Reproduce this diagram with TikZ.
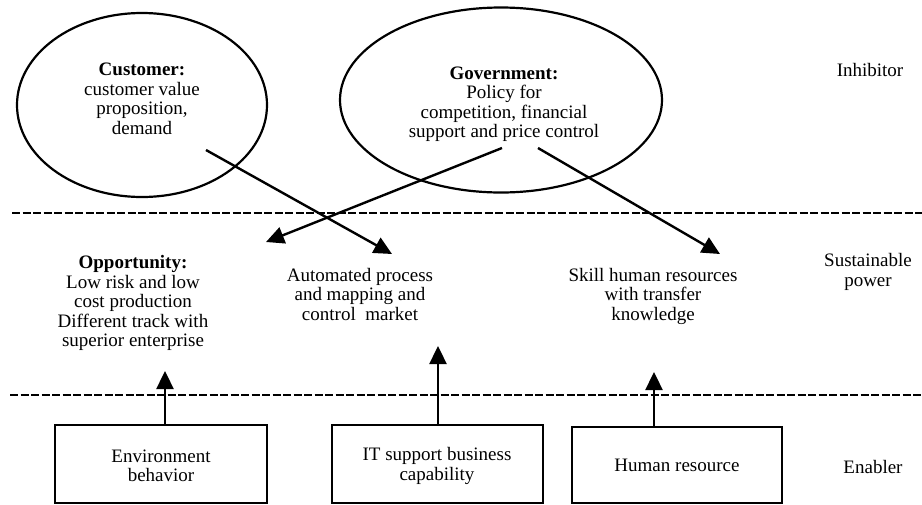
\documentclass[tikz,border=0pt]{standalone}
\usepackage{fontspec}
\setmainfont{Liberation Serif}
\usetikzlibrary{arrows.meta,shapes.geometric}
\begin{document}
\begin{tikzpicture}[x=1pt,y=-1pt,
 txt/.style={align=center,font=\fontsize{19}{19.5}\selectfont,inner sep=0pt},
 oval/.style={draw,ellipse,line width=2.2pt,inner sep=0pt},
 boxn/.style={draw,rectangle,line width=2.4pt,inner sep=0pt},
 sepline/.style={line width=2.3pt,dash pattern=on 8pt off 2.5pt},
 arr/.style={line width=2.4pt,-{Triangle[length=18pt,width=17pt]}}]
\useasboundingbox (0,0) rectangle (922,504);
% ellipses
\node[oval,minimum width=250pt,minimum height=184pt] (cust) at (142,105) {};
\node[oval,minimum width=322pt,minimum height=185pt] (gov) at (501,100) {};
\node[txt] (custtext) at (142,99) {\textbf{Customer:}\\customer value\\proposition,\\demand};
\node[txt] (govtext) at (504,104) {\textbf{Government:}\\Policy for\\competition, financial\\support and price control};
% layer labels
\node[txt] (inhib) at (870,70) {Inhibitor};
\node[txt] (sust) at (868,272) {Sustainable\\power};
\node[txt] (enab) at (873,467) {Enabler};
% separators
\coordinate (s1a) at (12,213); \coordinate (s1b) at (922,213);
\coordinate (s2a) at (10,395); \coordinate (s2b) at (922,395);
\draw[sepline] (s1a) -- (s1b);
\draw[sepline] (s2a) -- (s2b);
% middle layer
\node[txt] (opp) at (133,303) {\textbf{Opportunity:}\\Low risk and low\\cost production\\Different track with\\superior enterprise};
\node[txt] (auto) at (360,294) {Automated process\\and mapping and\\control~ market};
\node[txt] (skill) at (653,296) {Skill human resources\\with transfer\\knowledge};
% bottom boxes
\node[boxn,minimum width=212pt,minimum height=78pt] (env) at (161,464) {};
\node[txt] (envtext) at (161,466) {Environment\\behavior};
\node[boxn,minimum width=211pt,minimum height=78pt] (it) at (437.5,464) {};
\node[txt] (ittext) at (437,466) {IT support business\\capability};
\node[boxn,minimum width=210pt,minimum height=76pt] (hr) at (677,465) {};
\node[txt] (hrtext) at (677,465) {Human resource};
% arrows from ellipses
\coordinate (c1) at (206,150);
\coordinate (autotip) at (392,254);
\coordinate (g1) at (502,148);
\coordinate (opptip) at (266,242);
\coordinate (g2) at (538,148);
\coordinate (skilltip) at (720,254);
\draw[arr] (c1) -- (autotip);
\draw[arr] (g1) -- (opptip);
\draw[arr] (g2) -- (skilltip);
% up arrows
\coordinate (e0) at (165,425); \coordinate (e1) at (165,371);
\coordinate (i0) at (438,425); \coordinate (i1) at (438,346);
\coordinate (h0) at (654,427); \coordinate (h1) at (654,372);
\draw[arr] (e0) -- (e1);
\draw[arr] (i0) -- (i1);
\draw[arr] (h0) -- (h1);
\end{tikzpicture}
\end{document}
